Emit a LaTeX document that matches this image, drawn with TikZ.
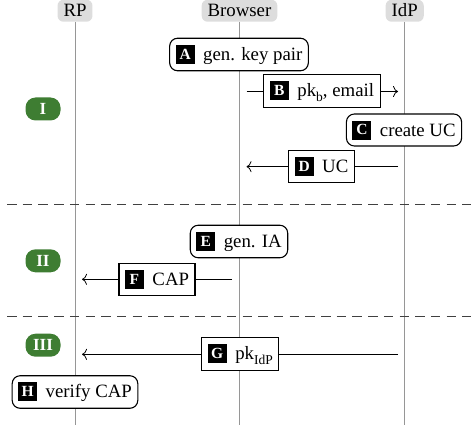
\documentclass[tikz,border=0pt]{standalone}
\usepackage{fontspec}
\setmainfont{Liberation Serif}
\usetikzlibrary{arrows.meta}
\definecolor{phasegreen}{RGB}{62,125,50}
\definecolor{hdrgray}{RGB}{221,221,221}
\definecolor{lifegray}{RGB}{150,150,150}
\newcommand{\bdg}[1]{{\setlength{\fboxsep}{0pt}\colorbox{black}{\makebox[19pt]{\rule[-3.5pt]{0pt}{19pt}\raisebox{1.2pt}{\color{white}\fontsize{15.5}{15.5}\selectfont\bfseries #1}}}}\hspace{8.5pt}}
\newcommand{\sbs}[1]{\raisebox{-4.5pt}{\fontsize{13.5}{13.5}\selectfont #1}}
\begin{document}
\begin{tikzpicture}[x=1pt,y=-1pt,font=\fontsize{18.8}{22}\selectfont,
  hdr/.style={fill=hdrgray, rounded corners=6pt, inner xsep=6pt, inner ysep=4.75pt, text height=12.5pt, text depth=0pt},
  life/.style={draw=lifegray, line width=0.9pt},
  act/.style={draw, fill=white, line width=1.1pt, rounded corners=8pt, inner xsep=6pt, inner ysep=6.5pt},
  msg/.style={draw, fill=white, line width=1.1pt, inner xsep=6pt, inner ysep=6.5pt},
  arr/.style={line width=0.8pt, -{To[length=5pt,width=11pt]}},
  phase/.style={fill=phasegreen, text=white, rounded corners=10pt, minimum width=35pt, minimum height=23pt, inner sep=0pt, font=\fontsize{17}{17}\selectfont\bfseries},
  sepline/.style={draw=black!75, line width=0.9pt, dash pattern=on 9.5pt off 6.2pt}]
\useasboundingbox (0,0) rectangle (471,425);
% headers
\node[hdr] (rp) at (75,10.75) {RP};
\node[hdr] (br) at (239.5,10.75) {Browser};
\node[hdr] (idp) at (404.7,10.75) {IdP};
% lifelines
\coordinate (rpend) at (75,425);
\coordinate (brend) at (239.5,425);
\coordinate (idpend) at (404.7,425);
\draw[life] (rp.south) -- (rpend);
\draw[life] (br.south) -- (brend);
\draw[life] (idp.south) -- (idpend);
% phase separators
\coordinate (s1a) at (7,204.3);
\coordinate (s1b) at (471,204.3);
\coordinate (s2a) at (7,316.7);
\coordinate (s2b) at (471,316.7);
\draw[sepline] (s1a) -- (s1b);
\draw[sepline] (s2a) -- (s2b);
% message arrows
\coordinate (b1) at (246.5,91.5);
\coordinate (b2) at (398,91.5);
\coordinate (d1) at (398,166.7);
\coordinate (d2) at (246.5,166.7);
\coordinate (f1) at (232,279.3);
\coordinate (f2) at (82,279.3);
\coordinate (g1) at (398,354.3);
\coordinate (g2) at (82,354.3);
\draw[arr] (b1) -- (b2);
\draw[arr] (d1) -- (d2);
\draw[arr] (f1) -- (f2);
\draw[arr] (g1) -- (g2);
% phases
\node[phase] (p1) at (43,109) {I};
\node[phase] (p2) at (43,260.8) {II};
\node[phase] (p3) at (43,345.2) {III};
% steps
\node[act] (A) at (239,54.5) {\bdg{A}gen. key pair};
\node[msg] (B) at (322,91.2) {\bdg{B}pk\sbs{b}, email};
\node[act] (C) at (404,130) {\bdg{C}create UC};
\node[msg] (D) at (321.5,166.5) {\bdg{D}UC};
\node[act] (E) at (239,241.5) {\bdg{E}gen. IA};
\node[msg] (F) at (157,279.2) {\bdg{F}CAP};
\node[msg] (G) at (240.3,354.2) {\bdg{G}pk\sbs{IdP}};
\node[act] (H) at (75,392) {\bdg{H}verify CAP};
\end{tikzpicture}
\end{document}
